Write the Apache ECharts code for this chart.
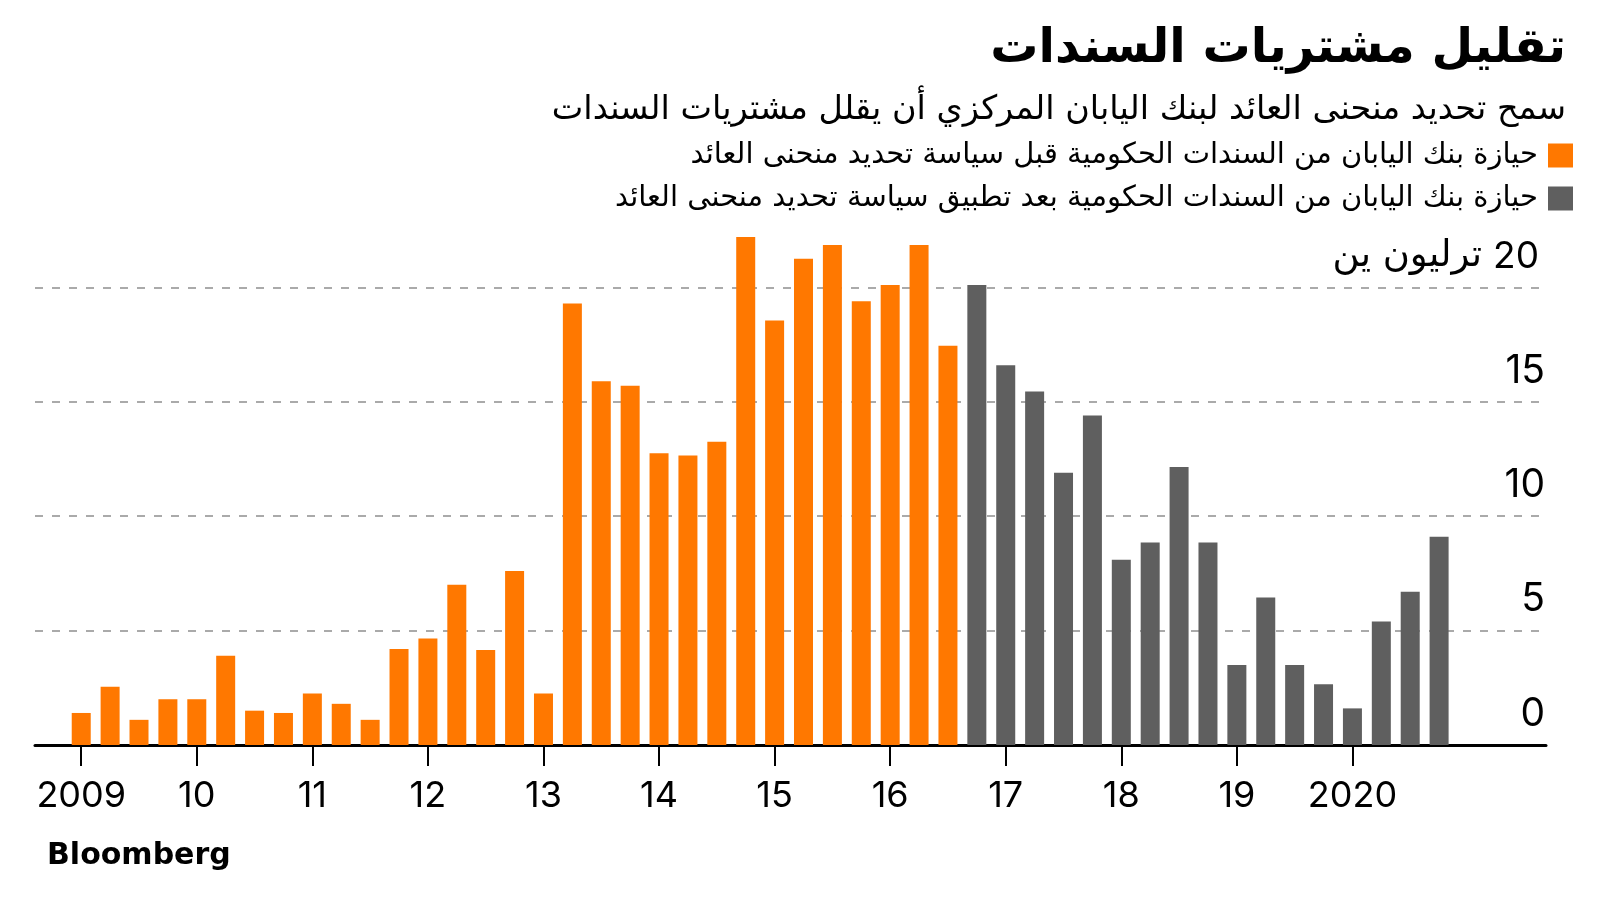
<!DOCTYPE html>
<html><head><meta charset="utf-8">
<script src="https://cdn.jsdelivr.net/npm/echarts@6/dist/echarts.min.js"></script>
<style>html,body{margin:0;padding:0;background:#fff}#c{width:1600px;height:900px}</style>
</head><body><div id="c"></div>
<script>
// Quarterly categories 2009 Q1 .. 2020 Q4
const quarters = [];
for (let y = 2009; y <= 2020; y++) { for (let q = 1; q <= 4; q++) quarters.push(y + ' Q' + q); }

// BOJ JGB holdings change (trillion yen), before YCC policy (2009 Q1 – 2016 Q3)
const beforeYCC = [1.4, 2.55, 1.1, 2.0, 2.0, 3.9, 1.5, 1.4, 2.25, 1.8, 1.1, 4.2,
  4.65, 7.0, 4.15, 7.6, 2.25, 19.3, 15.9, 15.7, 12.75, 12.65, 13.25, 22.2,
  18.55, 21.25, 21.85, 19.4, 20.1, 21.85, 17.45];
// After YCC policy (2016 Q4 – 2020 Q4)
const afterYCC = [20.1, 16.6, 15.45, 11.9, 14.4, 8.1, 8.85, 12.15, 8.85,
  3.5, 6.45, 3.5, 2.65, 1.6, 5.4, 6.7, 9.1];

const xTickLabels = ['2009', '10', '11', '12', '13', '14', '15', '16', '17', '18', '19', '2020'];
const yTickValues = [0, 5, 10, 15, 20];
const yUnit = 'ترليون ين';

const titleText = 'تقليل مشتريات السندات';
const subtitleText = 'سمح تحديد منحنى العائد لبنك اليابان المركزي أن يقلل مشتريات السندات';
const seriesNames = [
  'حيازة بنك اليابان من السندات الحكومية قبل سياسة تحديد منحنى العائد',
  'حيازة بنك اليابان من السندات الحكومية بعد تطبيق سياسة تحديد منحنى العائد'
];
const sourceText = 'Bloomberg';

const tickPos = xTickLabels.map((_, k) => quarters.indexOf((2009 + k) + ' Q1'));
const beforeData = beforeYCC.map((v, i) => [i, v]);
const afterData = afterYCC.map((v, i) => [beforeYCC.length + i, v]);

const chart = echarts.init(document.getElementById('c'));
chart.setOption({
  animation: false,
  backgroundColor: '#fff',
  title: [
    { text: titleText, right: 29, top: 21,
      textStyle: { fontFamily: 'DejaVu Sans', fontWeight: 'bold', fontSize: 48, color: '#000' } },
    { text: subtitleText, right: 29, top: 88,
      textStyle: { fontFamily: 'DejaVu Sans', fontWeight: 'normal', fontSize: 33.5, color: '#000' } },
    { text: sourceText, left: 42, top: 836,
      textStyle: { fontFamily: 'DejaVu Sans', fontWeight: 'bold', fontSize: 30, color: '#000' } }
  ],
  legend: {
    orient: 'vertical', right: 22, top: 136, align: 'right', icon: 'rect',
    itemWidth: 25, itemHeight: 24, itemGap: 14,
    textStyle: { fontFamily: 'DejaVu Sans', fontSize: 29, color: '#000', padding: [0, 5, 0, 0] },
    data: seriesNames
  },
  grid: { left: 35, right: 54, top: 287.4, bottom: 155 },
  xAxis: {
    type: 'value', min: -1.6, max: 50.7,
    splitLine: { show: false },
    axisLine: { show: true, onZero: false, lineStyle: { color: '#000', width: 3 } },
    axisTick: { show: true, customValues: tickPos, length: 21, lineStyle: { color: '#000', width: 2 } },
    axisLabel: {
      customValues: tickPos,
      formatter: v => xTickLabels[tickPos.indexOf(Math.round(v))] || '',
      margin: 33, fontFamily: 'Inter', fontSize: 36, color: '#000'
    }
  },
  yAxis: {
    type: 'value', position: 'right', min: yTickValues[0], max: yTickValues[yTickValues.length - 1], interval: 5,
    axisLine: { show: false }, axisTick: { show: false },
    splitLine: { show: true, lineStyle: { color: '#aaaaaa', type: [8, 9], width: 2 } },
    axisLabel: {
      inside: true, margin: 1, align: 'right', verticalAlign: 'middle', padding: [0, 0, 62, 0],
      fontFamily: 'Inter', fontSize: 39, color: '#000',
      formatter: v => v === yTickValues[yTickValues.length - 1] ? '{u|' + yUnit + '} {n|' + v + '}' : String(v),
      rich: {
        u: { fontFamily: 'DejaVu Sans', fontSize: 37, color: '#000' },
        n: { fontFamily: 'Inter', fontSize: 37, color: '#000', padding: [0, 6, 0, 0] }
      }
    }
  },
  series: [
    { name: seriesNames[0], type: 'bar', data: beforeData, barWidth: 19, barGap: '-100%', clip: false,
      itemStyle: { color: '#FF7800' } },
    { name: seriesNames[1], type: 'bar', data: afterData, barWidth: 19, barGap: '-100%', clip: false,
      itemStyle: { color: '#5F5F5F' } }
  ]
});
</script>
</body></html>
